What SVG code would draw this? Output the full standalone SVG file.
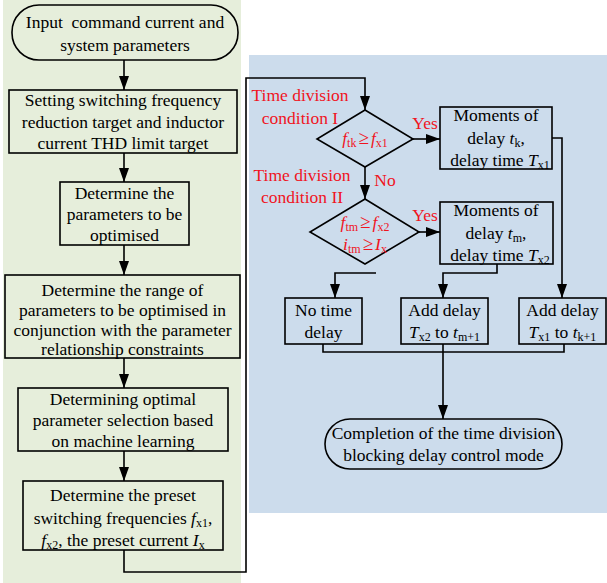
<svg xmlns="http://www.w3.org/2000/svg" width="607" height="583" viewBox="0 0 607 583">
<defs>
<style>
.bg-g{fill:#e6eedb;}
.bg-b{fill:#ccdcec;}
.box{fill:none;stroke:#000;stroke-width:1.6;}
.t{font-family:"Liberation Serif","Times New Roman",serif;font-size:17.5px;fill:#000;text-anchor:middle;}
.r{fill:#f0141e;}
.i{font-style:italic;}
.s{font-size:12px;font-style:normal;}
.ge{font-size:19px;}
.c{fill:none;stroke:#000;stroke-width:1.6;}
</style>
<marker id="a" viewBox="0 0 14 10" refX="14" refY="5" markerWidth="14" markerHeight="10" markerUnits="userSpaceOnUse" orient="auto">
<path d="M0,0 L14,5 L0,10 Z" fill="#000"/>
</marker>
</defs>
<rect class="bg-g" x="3" y="0" width="238" height="583"/>
<rect class="bg-b" x="249" y="55" width="358" height="458"/>

<g id="connectors">
<path class="c" d="M124,60 V90" marker-end="url(#a)"/>
<path class="c" d="M124,153 V182" marker-end="url(#a)"/>
<path class="c" d="M124,245 V275" marker-end="url(#a)"/>
<path class="c" d="M124,358 V388" marker-end="url(#a)"/>
<path class="c" d="M124,451 V481" marker-end="url(#a)"/>
<path class="c" d="M124,550 V572 H246 V78 H365 V110" marker-end="url(#a)"/>
<path class="c" d="M413,139 H440" marker-end="url(#a)"/>
<path class="c" d="M365,167 V199" marker-end="url(#a)"/>
<path class="c" d="M419,232 H440" marker-end="url(#a)"/>
<path class="c" d="M376,273 H335 V298" marker-end="url(#a)"/>
<path class="c" d="M497,264 V273 H443 V298" marker-end="url(#a)"/>
<path class="c" d="M552,138 H562 V298" marker-end="url(#a)"/>
<path class="c" d="M323,344 V352 H564 V344"/>
<path class="c" d="M443,344 V419" marker-end="url(#a)"/>
</g>

<g id="start">
<rect class="box" x="12" y="5" width="226" height="55" rx="27" ry="27"/>
<text class="t" x="125" y="28">Input&#160; command current and</text>
<text class="t" x="125" y="51">system parameters</text>
</g>

<g id="setTarget">
<rect class="box" x="9" y="90" width="228" height="63"/>
<text class="t" x="123" y="106">Setting switching frequency</text>
<text class="t" x="123" y="128">reduction target and inductor</text>
<text class="t" x="123" y="149">current THD limit target</text>
</g>

<g id="detParams">
<rect class="box" x="60" y="182" width="129" height="63"/>
<text class="t" x="124.5" y="199">Determine the</text>
<text class="t" x="124.5" y="220">parameters to be</text>
<text class="t" x="124.5" y="241">optimised</text>
</g>

<g id="detRange">
<rect class="box" x="5" y="275" width="235" height="83"/>
<text class="t" x="122.5" y="296">Determine the range of</text>
<text class="t" x="122.5" y="316">parameters to be optimised in</text>
<text class="t" x="122.5" y="336">conjunction with the parameter</text>
<text class="t" x="122.5" y="355">relationship constraints</text>
</g>

<g id="ml">
<rect class="box" x="18" y="388" width="210" height="63"/>
<text class="t" x="123" y="405">Determining optimal</text>
<text class="t" x="123" y="426">parameter selection based</text>
<text class="t" x="123" y="447">on machine learning</text>
</g>

<g id="preset">
<rect class="box" x="23" y="481" width="200" height="69"/>
<text class="t" x="123" y="501">Determine the preset</text>
<text class="t" x="123" y="524">switching frequencies <tspan class="i">f</tspan><tspan class="s" dy="3">x1</tspan><tspan dy="-3">,</tspan></text>
<text class="t" x="123" y="546"><tspan class="i">f</tspan><tspan class="s" dy="3">x2</tspan><tspan dy="-3">, the preset current </tspan><tspan class="i">I</tspan><tspan class="s" dy="3">x</tspan></text>
</g>

<g id="labels">
<text class="t r" x="300" y="101">Time division</text>
<text class="t r" x="300" y="124">condition I</text>
<text class="t r" x="302" y="181">Time division</text>
<text class="t r" x="302" y="203">condition II</text>
<text class="t r" x="425" y="129">Yes</text>
<text class="t r" x="425" y="221">Yes</text>
<text class="t r" x="385" y="186">No</text>
</g>

<g id="cond1">
<polygon class="box" points="365,110 413,139 365,167 317,139"/>
<text class="t r" x="365" y="144"><tspan class="i">f</tspan><tspan class="s" dy="3">tk</tspan><tspan class="ge" dy="-3" dx="2">≥</tspan><tspan class="i" dx="2">f</tspan><tspan class="s" dy="3">x1</tspan></text>
</g>

<g id="cond2">
<polygon class="box" points="365,199 419,232 365,264 310,232"/>
<text class="t r" x="365" y="228"><tspan class="i">f</tspan><tspan class="s" dy="3">tm</tspan><tspan class="ge" dy="-3" dx="2">≥</tspan><tspan class="i" dx="2">f</tspan><tspan class="s" dy="3">x2</tspan></text>
<text class="t r" x="365" y="250"><tspan class="i">i</tspan><tspan class="s" dy="3">tm</tspan><tspan class="ge" dy="-3" dx="2">≥</tspan><tspan class="i" dx="2">I</tspan><tspan class="s" dy="3">x</tspan></text>
</g>

<g id="momentK">
<rect class="box" x="440" y="107" width="112" height="62"/>
<text class="t" x="496" y="121">Moments of</text>
<text class="t" x="496" y="144">delay <tspan class="i">t</tspan><tspan class="s" dy="3">k</tspan><tspan dy="-3">,</tspan></text>
<text class="t" x="500" y="166">delay time <tspan class="i">T</tspan><tspan class="s" dy="3">x1</tspan></text>
</g>

<g id="momentM">
<rect class="box" x="440" y="202" width="113" height="62"/>
<text class="t" x="496" y="216">Moments of</text>
<text class="t" x="496" y="239">delay <tspan class="i">t</tspan><tspan class="s" dy="3">m</tspan><tspan dy="-3">,</tspan></text>
<text class="t" x="500" y="261">delay time <tspan class="i">T</tspan><tspan class="s" dy="3">x2</tspan></text>
</g>

<g id="noDelay">
<rect class="box" x="285" y="298" width="77" height="46"/>
<text class="t" x="323.5" y="316">No time</text>
<text class="t" x="323.5" y="338">delay</text>
</g>

<g id="addTx2">
<rect class="box" x="401" y="298" width="87" height="46"/>
<text class="t" x="444.5" y="316">Add delay</text>
<text class="t" x="444.5" y="338"><tspan class="i">T</tspan><tspan class="s" dy="3">x2</tspan><tspan dy="-3"> to </tspan><tspan class="i">t</tspan><tspan class="s" dy="3">m+1</tspan></text>
</g>

<g id="addTx1">
<rect class="box" x="519" y="298" width="87" height="46"/>
<text class="t" x="562.5" y="316">Add delay</text>
<text class="t" x="562.5" y="338"><tspan class="i">T</tspan><tspan class="s" dy="3">x1</tspan><tspan dy="-3"> to </tspan><tspan class="i">t</tspan><tspan class="s" dy="3">k+1</tspan></text>
</g>

<g id="end">
<rect class="box" x="325" y="419" width="237" height="50" rx="25" ry="25"/>
<text class="t" x="443.5" y="439">Completion of the time division</text>
<text class="t" x="443.5" y="461">blocking delay control mode</text>
</g>
</svg>
